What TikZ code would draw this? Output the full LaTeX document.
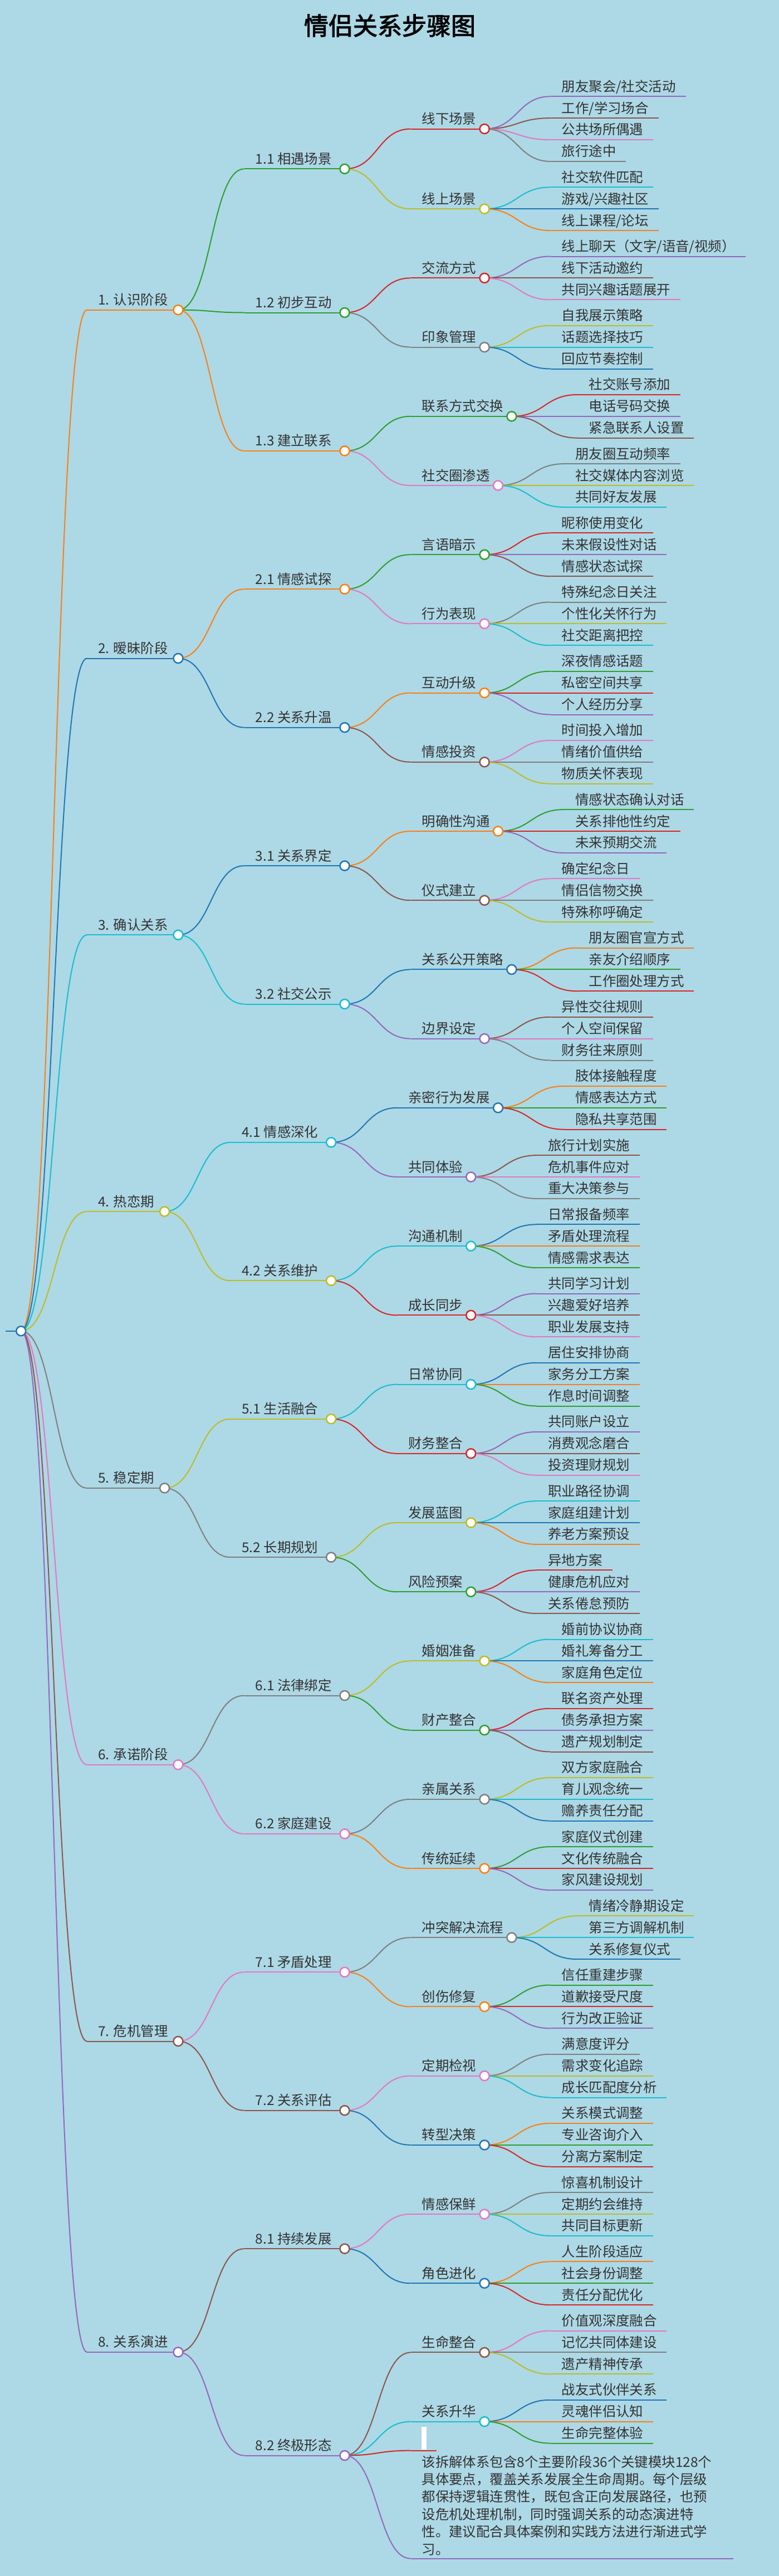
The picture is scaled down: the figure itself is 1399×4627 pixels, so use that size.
\documentclass[tikz,border=0pt]{standalone}
\usepackage{fontspec}
\usepackage{xstring}
\newfontfamily\cjk{Noto Sans CJK SC}
\newfontfamily\cjkbold{Noto Sans CJK SC}[FakeBold=2.5]
\definecolor{bg}{HTML}{ADD8E6}
\definecolor{txt}{HTML}{333333}
\definecolor{c0}{HTML}{1F77B4}\definecolor{c1}{HTML}{FF7F0E}\definecolor{c2}{HTML}{2CA02C}
\definecolor{c3}{HTML}{D62728}\definecolor{c4}{HTML}{9467BD}\definecolor{c5}{HTML}{8C564B}
\definecolor{c6}{HTML}{E377C2}\definecolor{c7}{HTML}{7F7F7F}\definecolor{c8}{HTML}{BCBD22}
\definecolor{c9}{HTML}{17BECF}
\newcount\ci \newcount\nA \newcount\nB \newcount\nC \newcount\nD
\newcommand\mapfont{\cjk\fontsize{24.4}{30}\selectfont}
\newcommand\nextcol{\global\advance\ci by 1\relax\pgfmathtruncatemacro\tmpc{mod(\ci,10)}\xdef\thecol{c\tmpc}}
\newcommand\measure[1]{\StrLen{#1}[\mlen]\StrCount{#1}{/}[\msl]\pgfmathsetmacro\tmpw{24.4*\mlen-14.4*\msl}}
\newcommand\setg[2]{\expandafter\xdef\csname #1\endcsname{#2}}
\newcommand\getg[1]{\csname #1\endcsname}
\def\rootcx{37.7}
\def\gY{165.7}
\tikzset{
 ul/.style={line width=2pt},
 lk/.style={line width=2pt},
 dot/.style={line width=2.5pt,fill=white},
 lbl/.style={anchor=base west,inner sep=0pt,text=txt,font=\mapfont}
}
\newcommand\drawnode[5]{%
 \draw[ul,draw=#1] (#2-20,#4) -- (#3,#4);
 \node[lbl] at (#2,#4-9) {#5};
 \draw[dot,draw=#1] (#3,#4) circle[radius=8.5];}
\newcommand\drawlinks[5]{%
 \foreach \k in {#4,...,#5}{%
   \edef\lc{\getg{col#3\k}}\edef\lx{\getg{tx#3\k}}\edef\ly{\getg{y#3\k}}%
   \pgfmathsetmacro\mx{(#1+\lx-20)/2}%
   \draw[lk,draw=\lc] (#1,#2) .. controls (\mx,#2) and (\mx,\ly) .. (\lx-20,\ly);
 }}
% level 1 (optional arg: number of CJK characters)
\newcommand\Lone[2][4]{%
 \global\advance\nA by 1\relax\nextcol\setg{colA\the\nA}{\thecol}%
 \gdef\Atext{#2}%
 \pgfmathsetmacro\tmpx{\rootcx+138.5}\setg{txA\the\nA}{\tmpx}\xdef\Atx{\tmpx}%
 \pgfmathsetmacro\tmpx{\Atx+31.2+24.4*#1+15}\xdef\Acx{\tmpx}%
 \xdef\Bfirst{\the\numexpr\nB+1\relax}}
\newcommand\EndLone{%
 \edef\Blast{\the\nB}%
 \pgfmathsetmacro\tmpy{(\getg{yB\Bfirst}+\getg{yB\Blast})/2}\setg{yA\the\nA}{\tmpy}%
 \drawlinks{\Acx}{\tmpy}{B}{\Bfirst}{\Blast}%
 \edef\cc{\getg{colA\the\nA}}%
 \drawnode{\cc}{\Atx}{\Acx}{\tmpy}{\Atext}}
% level 2
\newcommand\Ltwo[1]{%
 \global\advance\nB by 1\relax\nextcol\setg{colB\the\nB}{\thecol}%
 \gdef\Btext{#1}%
 \pgfmathsetmacro\tmpx{\Acx+138.5}\setg{txB\the\nB}{\tmpx}\xdef\Btx{\tmpx}%
 \pgfmathsetmacro\tmpx{\Btx+145.5+15}\xdef\Bcx{\tmpx}%
 \xdef\Cfirst{\the\numexpr\nC+1\relax}}
\newcommand\EndLtwo{%
 \edef\Clast{\the\nC}%
 \pgfmathsetmacro\tmpy{(\getg{yC\Cfirst}+\getg{yC\Clast})/2}\setg{yB\the\nB}{\tmpy}%
 \drawlinks{\Bcx}{\tmpy}{C}{\Cfirst}{\Clast}%
 \edef\cc{\getg{colB\the\nB}}%
 \drawnode{\cc}{\Btx}{\Bcx}{\tmpy}{\Btext}}
% level 3
\newcommand\Lthree[1]{%
 \global\advance\nC by 1\relax\nextcol\setg{colC\the\nC}{\thecol}%
 \gdef\Ctext{#1}%
 \pgfmathsetmacro\tmpx{\Bcx+138.5}\setg{txC\the\nC}{\tmpx}\xdef\Ctx{\tmpx}%
 \measure{#1}\pgfmathsetmacro\tmpx{\Ctx+\tmpw+15}\xdef\Ccx{\tmpx}%
 \pgfmathsetmacro\tmpy{\gY+7.5}\xdef\gY{\tmpy}%
 \xdef\Dfirst{\the\numexpr\nD+1\relax}}
\newcommand\EndLthree{%
 \edef\Dlast{\the\nD}%
 \pgfmathsetmacro\tmpy{(\getg{yD\Dfirst}+\getg{yD\Dlast})/2}\setg{yC\the\nC}{\tmpy}%
 \drawlinks{\Ccx}{\tmpy}{D}{\Dfirst}{\Dlast}%
 \edef\cc{\getg{colC\the\nC}}%
 \drawnode{\cc}{\Ctx}{\Ccx}{\tmpy}{\Ctext}}
% leaf
\newcommand\leaf[1]{%
 \global\advance\nD by 1\relax\nextcol\setg{colD\the\nD}{\thecol}%
 \setg{yD\the\nD}{\gY}%
 \pgfmathsetmacro\tmpx{\Ccx+138.5}\setg{txD\the\nD}{\tmpx}%
 \measure{#1}\pgfmathsetmacro\tmpe{\tmpx+\tmpw+18}%
 \draw[ul,draw=\thecol] (\tmpx-20,\gY) -- (\tmpe,\gY);
 \node[lbl] at (\tmpx,\gY-9) {#1};
 \pgfmathsetmacro\tmpy{\gY+38.9}\xdef\gY{\tmpy}}
\newcommand\grp[4]{\Lthree{#1}\leaf{#2}\leaf{#3}\leaf{#4}\EndLthree}
\begin{document}
\begin{tikzpicture}[x=1pt,y=-1pt]
\fill[bg] (0,0) rectangle (1399,4627);
\useasboundingbox (0,0) rectangle (1399,4627);
\node[font=\cjkbold\fontsize{44}{50}\selectfont,text=black] (title) at (700,46) {情侣关系步骤图};
%
\Lone{1. 认识阶段}
 \Ltwo{1.1 相遇场景}
  \Lthree{线下场景}\leaf{朋友聚会/社交活动}\leaf{工作/学习场合}\leaf{公共场所偶遇}\leaf{旅行途中}\EndLthree
  \grp{线上场景}{社交软件匹配}{游戏/兴趣社区}{线上课程/论坛}
 \EndLtwo
 \Ltwo{1.2 初步互动}
  \grp{交流方式}{线上聊天（文字/语音/视频）}{线下活动邀约}{共同兴趣话题展开}
  \grp{印象管理}{自我展示策略}{话题选择技巧}{回应节奏控制}
 \EndLtwo
 \Ltwo{1.3 建立联系}
  \grp{联系方式交换}{社交账号添加}{电话号码交换}{紧急联系人设置}
  \grp{社交圈渗透}{朋友圈互动频率}{社交媒体内容浏览}{共同好友发展}
 \EndLtwo
\EndLone
\Lone{2. 暧昧阶段}
 \Ltwo{2.1 情感试探}
  \grp{言语暗示}{昵称使用变化}{未来假设性对话}{情感状态试探}
  \grp{行为表现}{特殊纪念日关注}{个性化关怀行为}{社交距离把控}
 \EndLtwo
 \Ltwo{2.2 关系升温}
  \grp{互动升级}{深夜情感话题}{私密空间共享}{个人经历分享}
  \grp{情感投资}{时间投入增加}{情绪价值供给}{物质关怀表现}
 \EndLtwo
\EndLone
\Lone{3. 确认关系}
 \Ltwo{3.1 关系界定}
  \grp{明确性沟通}{情感状态确认对话}{关系排他性约定}{未来预期交流}
  \grp{仪式建立}{确定纪念日}{情侣信物交换}{特殊称呼确定}
 \EndLtwo
 \Ltwo{3.2 社交公示}
  \grp{关系公开策略}{朋友圈官宣方式}{亲友介绍顺序}{工作圈处理方式}
  \grp{边界设定}{异性交往规则}{个人空间保留}{财务往来原则}
 \EndLtwo
\EndLone
\Lone[3]{4. 热恋期}
 \Ltwo{4.1 情感深化}
  \grp{亲密行为发展}{肢体接触程度}{情感表达方式}{隐私共享范围}
  \grp{共同体验}{旅行计划实施}{危机事件应对}{重大决策参与}
 \EndLtwo
 \Ltwo{4.2 关系维护}
  \grp{沟通机制}{日常报备频率}{矛盾处理流程}{情感需求表达}
  \grp{成长同步}{共同学习计划}{兴趣爱好培养}{职业发展支持}
 \EndLtwo
\EndLone
\Lone[3]{5. 稳定期}
 \Ltwo{5.1 生活融合}
  \grp{日常协同}{居住安排协商}{家务分工方案}{作息时间调整}
  \grp{财务整合}{共同账户设立}{消费观念磨合}{投资理财规划}
 \EndLtwo
 \Ltwo{5.2 长期规划}
  \grp{发展蓝图}{职业路径协调}{家庭组建计划}{养老方案预设}
  \grp{风险预案}{异地方案}{健康危机应对}{关系倦怠预防}
 \EndLtwo
\EndLone
\Lone{6. 承诺阶段}
 \Ltwo{6.1 法律绑定}
  \grp{婚姻准备}{婚前协议协商}{婚礼筹备分工}{家庭角色定位}
  \grp{财产整合}{联名资产处理}{债务承担方案}{遗产规划制定}
 \EndLtwo
 \Ltwo{6.2 家庭建设}
  \grp{亲属关系}{双方家庭融合}{育儿观念统一}{赡养责任分配}
  \grp{传统延续}{家庭仪式创建}{文化传统融合}{家风建设规划}
 \EndLtwo
\EndLone
\Lone{7. 危机管理}
 \Ltwo{7.1 矛盾处理}
  \grp{冲突解决流程}{情绪冷静期设定}{第三方调解机制}{关系修复仪式}
  \grp{创伤修复}{信任重建步骤}{道歉接受尺度}{行为改正验证}
 \EndLtwo
 \Ltwo{7.2 关系评估}
  \grp{定期检视}{满意度评分}{需求变化追踪}{成长匹配度分析}
  \grp{转型决策}{关系模式调整}{专业咨询介入}{分离方案制定}
 \EndLtwo
\EndLone
\Lone{8. 关系演进}
 \Ltwo{8.1 持续发展}
  \grp{情感保鲜}{惊喜机制设计}{定期约会维持}{共同目标更新}
  \grp{角色进化}{人生阶段适应}{社会身份调整}{责任分配优化}
 \EndLtwo
 \Ltwo{8.2 终极形态}
  \grp{生命整合}{价值观深度融合}{记忆共同体建设}{遗产精神传承}
  \grp{关系升华}{战友式伙伴关系}{灵魂伴侣认知}{生命完整体验}
  % empty node
  \global\advance\nC by 1\relax\nextcol\setg{colC\the\nC}{\thecol}%
  \pgfmathsetmacro\tmpx{\Bcx+138.5}\setg{txC\the\nC}{\tmpx}\setg{yC\the\nC}{4401.6}%
  \draw[ul,draw=\thecol] (\tmpx-20,4401.6) -- (784,4401.6);
  \fill[white] (757,4359) rectangle (766,4400);
  % note node
  \global\advance\nC by 1\relax\nextcol\setg{colC\the\nC}{\thecol}%
  \pgfmathsetmacro\tmpx{\Bcx+138.5}\setg{txC\the\nC}{\tmpx}\setg{yC\the\nC}{4595.6}%
  \draw[ul,draw=\thecol] (\tmpx-20,4595.6) -- (1317,4595.6);
  \node[lbl] (n1) at (\tmpx,4431) {该拆解体系包含8个主要阶段36个关键模块128个};
  \node[lbl] (n2) at (\tmpx,4462.4) {具体要点，覆盖关系发展全生命周期。每个层级};
  \node[lbl] (n3) at (\tmpx,4493.8) {都保持逻辑连贯性，既包含正向发展路径，也预};
  \node[lbl] (n4) at (\tmpx,4525.2) {设危机处理机制，同时强调关系的动态演进特};
  \node[lbl] (n5) at (\tmpx,4556.6) {性。建议配合具体案例和实践方法进行渐进式学};
  \node[lbl] (n6) at (\tmpx,4588) {习。};
 \EndLtwo
\EndLone
% root
\pgfmathsetmacro\ry{(\getg{yA1}+\getg{yA8})/2}
\drawlinks{\rootcx}{\ry}{A}{1}{8}
\draw[ul,draw=c0] (10,\ry) -- (\rootcx,\ry);
\draw[dot,draw=c0] (\rootcx,\ry) circle[radius=8.5];
\end{tikzpicture}
\end{document}
